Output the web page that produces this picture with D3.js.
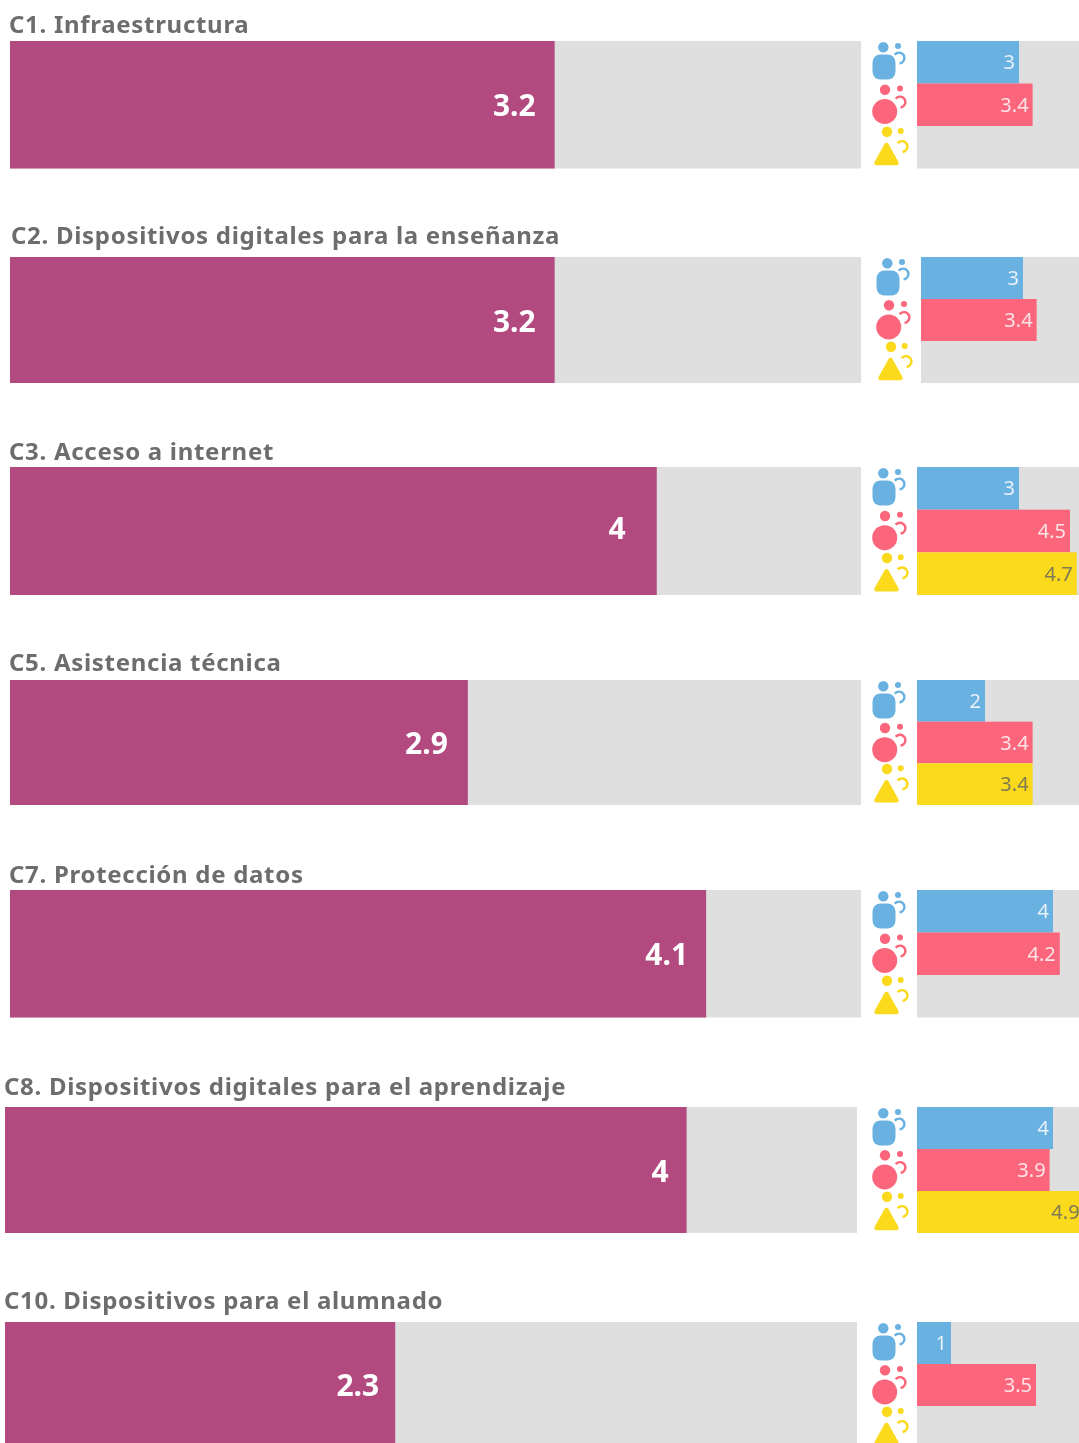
<!DOCTYPE html>
<html>
<head>
<meta charset="utf-8">
<script src="https://cdn.jsdelivr.net/npm/d3@7"></script>
<style>
  html, body { margin: 0; padding: 0; background: #fff; overflow: hidden; }
  svg { display: block; }
</style>
</head>
<body>
<div id="svgOutput"></div>
<script>
// Data

const titles = [
  "C1. Infraestructura",
  "C2. Dispositivos digitales para la enseñanza",
  "C3. Acceso a internet",
  "C5. Asistencia técnica",
  "C7. Protección de datos",
  "C8. Dispositivos digitales para el aprendizaje",
  "C10. Dispositivos para el alumnado"
];

// bar lengths as drawn; two of them do not agree with their printed label
const overallBars = [3.2, 3.2, 3.8, 2.69, 4.09, 4.0, 2.29];
const overallLabels = ["3.2", "3.2", "4", "2.9", "4.1", "4", "2.3"];

const blueValues = [3, 3, 3, 2, 4, 4, 1];
const redValues = [3.4, 3.4, 4.5, 3.4, 4.2, 3.9, 3.5];
const yellowValues = [null, null, 4.7, 3.4, null, 4.9, null];

// Config

const width = 1079;
const height = 1443;

const panelTop = [41, 257, 467, 680, 890, 1107, 1322];
const panelHeight = [127.5, 126, 128, 125, 127.5, 126, 126];
const titleX = [9, 11, 9, 9, 9, 4, 4];
const titleY = [33, 244, 460, 671, 883, 1095, 1309];
const mainLeft = [10, 10, 10, 10, 10, 5, 5];
const mainRight = [861, 861, 861, 861, 861, 857, 857];
const smallLeft = [917, 921, 917, 917, 917, 917, 917];
const labelGap = [19, 19, 31, 20, 18, 18, 16];
const labelDy = [1, 1, -3, 1, 1, 1, 0];

const smallUnit = 34;   // px per point, small bars

const colors = {
  main: "#b2497f",
  track: "#dfdfdf",
  title: "#6d6d6d",
  series: ["#69b1e1", "#fb667b", "#fbd91a"],
  seriesText: ["#e6f1fa", "#fde3e6", "#7d7a55"]
};

const svg = d3.select("#svgOutput")
  .append("svg")
  .attr("width", width)
  .attr("height", height)
  .attr("viewBox", [0, 0, width, height])
  .style("font-family", "'Noto Sans', sans-serif");

const blur = svg.append("defs").append("filter")
  .attr("id", "soft")
  .attr("x", "-5%").attr("y", "-5%")
  .attr("width", "110%").attr("height", "110%");
blur.append("feGaussianBlur").attr("stdDeviation", 0.55);

const root = svg.append("g").attr("filter", "url(#soft)");

// Icons

const iconArc = d3.arc().innerRadius(4.2).outerRadius(6.6);

function drawIcon(g, kind, color) {
  // origin is the top-left of the row the icon sits in, shifted to the icon column
  const big = g.append("g").attr("fill", color);
  let dot, hook;
  if (kind === 0) {
    big.append("rect")
      .attr("x", 0).attr("y", 13.5).attr("width", 23).attr("height", 25).attr("rx", 8);
    big.append("circle").attr("cx", 10.8).attr("cy", 6.3).attr("r", 5.2);
    dot = [25.5, 5];
    hook = [26.5, 17];
  } else if (kind === 1) {
    big.append("circle").attr("cx", 12.2).attr("cy", 28).attr("r", 12.5);
    big.append("circle").attr("cx", 12.5).attr("cy", 6.3).attr("r", 5.2);
    dot = [27.5, 5];
    hook = [27.5, 18.5];
  } else {
    big.append("path")
      .attr("d", "M14,19 L24,37 L4,37 Z")
      .attr("stroke", color)
      .attr("stroke-width", 4.5)
      .attr("stroke-linejoin", "round");
    big.append("circle").attr("cx", 14.5).attr("cy", 5.7).attr("r", 5.2);
    dot = [28.2, 5];
    hook = [29.5, 20.5];
  }
  big.append("circle").attr("cx", dot[0]).attr("cy", dot[1]).attr("r", 3);
  big.append("path")
    .attr("d", iconArc({ startAngle: -0.9, endAngle: Math.PI - 0.1 }))
    .attr("transform", `translate(${hook[0]},${hook[1]})`);
}

// Panels

titles.forEach((title, i) => {
  const top = panelTop[i];
  const h = panelHeight[i];
  const panel = root.append("g").attr("class", "panel");

  panel.append("text")
    .attr("x", titleX[i])
    .attr("y", titleY[i])
    .attr("fill", colors.title)
    .attr("font-size", 24)
    .attr("font-weight", 700)
    .attr("letter-spacing", 0.7)
    .text(title);

  const mainX = d3.scaleLinear()
    .domain([0, 5])
    .range([mainLeft[i], mainRight[i]]);

  panel.append("rect")
    .attr("x", mainX(0)).attr("y", top)
    .attr("width", mainX(5) - mainX(0)).attr("height", h)
    .attr("fill", colors.track);

  panel.append("rect")
    .attr("x", mainX(0)).attr("y", top)
    .attr("width", mainX(overallBars[i]) - mainX(0)).attr("height", h)
    .attr("fill", colors.main);

  panel.append("text")
    .attr("x", mainX(overallBars[i]) - labelGap[i])
    .attr("y", top + h / 2 + 10.5 + labelDy[i])
    .attr("text-anchor", "end")
    .attr("fill", "#fff")
    .attr("font-size", 30)
    .attr("font-weight", 700)
    .text(overallLabels[i]);

  // small bars by group

  const smallX = d3.scaleLinear()
    .domain([0, 5])
    .range([smallLeft[i], smallLeft[i] + 5 * smallUnit]);

  const rowY = d3.scaleBand()
    .domain([0, 1, 2])
    .range([top, top + h]);

  panel.append("rect")
    .attr("x", smallX(0)).attr("y", top)
    .attr("width", width - smallX(0)).attr("height", h)
    .attr("fill", colors.track);

  [blueValues[i], redValues[i], yellowValues[i]].forEach((v, k) => {
    const icon = panel.append("g")
      .attr("transform", `translate(${smallX(0) - 44.5},${rowY(k)})`);
    drawIcon(icon, k, colors.series[k]);

    if (v === null) return;

    panel.append("rect")
      .attr("x", smallX(0)).attr("y", rowY(k))
      .attr("width", smallX(v) - smallX(0)).attr("height", rowY.bandwidth())
      .attr("fill", colors.series[k]);

    panel.append("text")
      .attr("x", smallX(v) - 4)
      .attr("y", rowY(k) + rowY.bandwidth() / 2 + 7)
      .attr("text-anchor", "end")
      .attr("fill", colors.seriesText[k])
      .attr("font-size", 20)
      .text(v);
  });
});
</script>
</body>
</html>
